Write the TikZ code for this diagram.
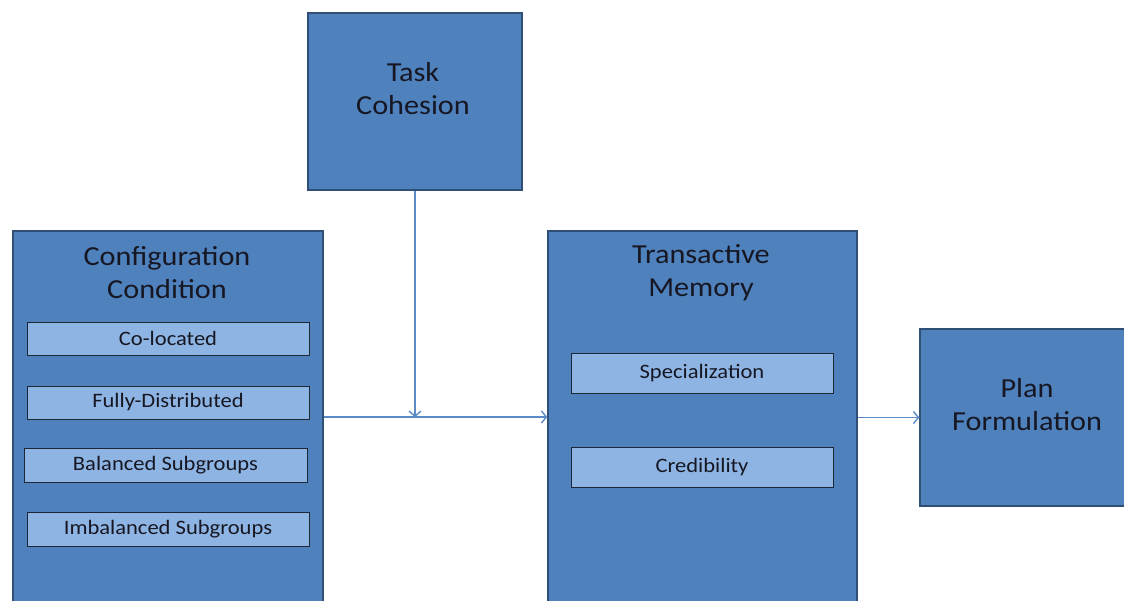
\documentclass[tikz,border=0pt]{standalone}
\usepackage{fontspec}
\setmainfont{Carlito}[FakeStretch=1.1]
\usetikzlibrary{arrows.meta}
\definecolor{boxblue}{HTML}{4F81BD}
\definecolor{boxedge}{HTML}{2F4F76}
\definecolor{lightblue}{HTML}{8EB4E3}
\definecolor{inneredge}{HTML}{1C2738}
\definecolor{linkblue}{HTML}{5B8BC7}
\definecolor{txt}{HTML}{161722}
\begin{document}
\begin{tikzpicture}[x=1pt,y=-1pt,
  bigbox/.style={draw=boxedge, fill=boxblue, line width=1.3pt, inner sep=0pt},
  subbox/.style={draw=inneredge, fill=lightblue, line width=1pt, inner sep=0pt,
    font=\fontsize{20.5}{23}\selectfont, text=txt},
  titletext/.style={align=center, inner sep=0pt, font=\fontsize{27.5}{33}\selectfont, text=txt},
  link/.style={draw=linkblue, line width=1.4pt, -{Straight Barb[length=5pt,width=12pt]}}]
\useasboundingbox (0,0) rectangle (1124,600);
\clip (0,0) rectangle (1124,600);
% big boxes
\node[bigbox, minimum width=214pt, minimum height=177pt] (task) at (415,101.5) {};
\node[bigbox, minimum width=310pt, minimum height=380pt] (cfg) at (168,421) {};
\node[bigbox, minimum width=309pt, minimum height=380pt] (tm) at (702.5,421) {};
\node[bigbox, minimum width=214pt, minimum height=177pt] (plan) at (1027,417.5) {};
% titles
\node[titletext] (tasktitle) at (413,88.5) {Task\\Cohesion};
\node[titletext] (cfgtitle) at (167,272.5) {Configuration\\Condition};
\node[titletext] (tmtitle) at (701,273) {Transactive\\Memory};
\node[titletext] (plantitle) at (1027,405) {Plan\\Formulation};
% inner boxes
\node[subbox, minimum width=282pt, minimum height=33pt] (colo) at (168,338.5) {Co-located};
\node[subbox, minimum width=282pt, minimum height=33pt] (fully) at (168,402.5) {Fully-Distributed};
\node[subbox, minimum width=283pt, minimum height=34pt] (bal) at (165.5,465) {Balanced Subgroups};
\node[subbox, minimum width=282pt, minimum height=34pt] (imbal) at (168,529) {Imbalanced Subgroups};
\node[subbox, minimum width=262pt, minimum height=40pt] (spec) at (702,373) {Specialization};
\node[subbox, minimum width=262pt, minimum height=40pt] (cred) at (702,467) {Credibility};
% connectors
\coordinate (join) at (415,417);
\draw[link] (cfg.east |- join) -- (tm.west |- join);
\draw[link] (task.south) -- (join);
\draw[link] (tm.east |- plan.west) -- (plan.west);
\end{tikzpicture}
\end{document}
